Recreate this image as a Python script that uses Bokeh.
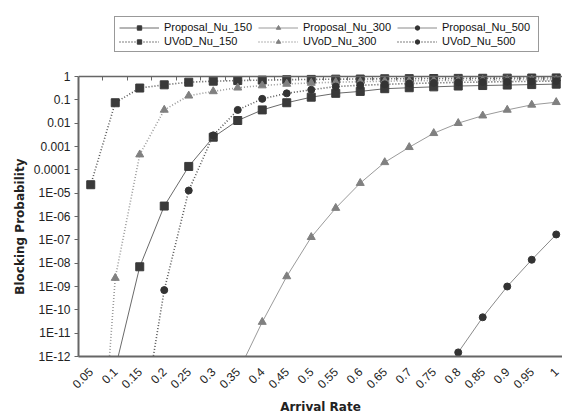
import math
from bokeh.plotting import figure
from bokeh.models import (Legend, LegendItem, FixedTicker, CustomJSTickFormatter,
                          LinearAxis, Range1d, Title)
from bokeh.embed import file_html
from bokeh.resources import INLINE

nan = float("nan")

arrival_rate = [0.05, 0.1, 0.15, 0.2, 0.25, 0.3, 0.35, 0.4, 0.45, 0.5,
                0.55, 0.6, 0.65, 0.7, 0.75, 0.8, 0.85, 0.9, 0.95, 1.0]

proposal_nu_150 = [nan, 3e-13, 7e-9, 2.8e-6, 1.4e-4, 2.5e-3, 0.013, 0.037, 0.075, 0.13,
                   0.19, 0.23, 0.30, 0.33, 0.36, 0.39, 0.41, 0.43, 0.45, 0.47]
proposal_nu_300 = [nan, nan, nan, nan, nan, nan, 2e-13, 3e-11, 2.7e-9, 1.3e-7,
                   2.3e-6, 2.7e-5, 2.1e-4, 9.3e-4, 3.7e-3, 0.01, 0.021, 0.037, 0.061, 0.079]
proposal_nu_500 = [nan, nan, nan, nan, nan, nan, nan, nan, nan, nan,
                   nan, nan, nan, nan, 5e-14, 1.5e-12, 4.8e-11, 1e-9, 1.4e-8, 1.7e-7]
uvod_nu_150 = [2.3e-5, 0.075, 0.32, 0.44, 0.57, 0.63, 0.67, 0.70, 0.73, 0.75,
               0.77, 0.78, 0.80, 0.81, 0.82, 0.83, 0.84, 0.85, 0.86, 0.87]
uvod_nu_300 = [1e-23, 2.3e-9, 4.5e-4, 0.037, 0.15, 0.23, 0.33, 0.41, 0.48, 0.53,
               0.57, 0.60, 0.63, 0.65, 0.67, 0.69, 0.70, 0.72, 0.73, 0.74]
uvod_nu_500 = [nan, nan, 3e-16, 7e-10, 1.3e-5, 3e-3, 0.037, 0.11, 0.19, 0.27,
               0.37, 0.42, 0.46, 0.50, 0.53, 0.56, 0.58, 0.60, 0.62, 0.64]

y_ticks = [1e-12, 1e-11, 1e-10, 1e-9, 1e-8, 1e-7, 1e-6, 1e-5, 1e-4, 1e-3, 1e-2, 1e-1, 1]
x_between_ticks = [0.075 + 0.05 * i for i in range(19)]

FONT = "Liberation Sans"
BOLD_FONT = "DejaVu Sans"

# frame from y=10 to y=356; value 1 sits 66px below the frame top,
# 1E-12 at the frame bottom (280px for 12 decades)
TOP_BORDER = 10
BOTTOM_BORDER = 64
HEIGHT = 420
Y1_PX = 66
frame_h = HEIGHT - TOP_BORDER - BOTTOM_BORDER
y_top = 10 ** (12 * Y1_PX / (frame_h - Y1_PX))

p = figure(width=562, height=HEIGHT, y_axis_type="log",
           x_range=Range1d(0.025, 1.0128), y_range=Range1d(1e-12, y_top),
           output_backend="svg", toolbar_location=None,
           min_border_left=78, min_border_right=0,
           min_border_top=TOP_BORDER, min_border_bottom=BOTTOM_BORDER)
p.grid.visible = False
p.outline_line_color = None
p.background_fill_color = "white"

# x axis
xa = p.xaxis[0]
xa.ticker = FixedTicker(ticks=arrival_rate)
xa.formatter = CustomJSTickFormatter(code="return parseFloat(tick.toFixed(2)).toString();")
xa.major_label_orientation = math.pi / 4
xa.major_tick_in = 0
xa.major_tick_out = 0
xa.minor_tick_in = 0
xa.minor_tick_out = 0
xa.axis_line_color = "#666666"
xa.axis_line_width = 2
xa.major_label_text_font = FONT
xa.major_label_text_font_size = "12px"
xa.major_label_text_color = "#222222"
xa.major_label_standoff = 13
xa.axis_label = "Arrival Rate"
xa.axis_label_text_font = BOLD_FONT
xa.axis_label_text_font_style = "bold"
xa.axis_label_text_font_size = "12px"
xa.axis_label_text_color = "#222222"
xa.axis_label_standoff = 5

# y axis (line stops at 1)
ya = p.yaxis[0]
ya.ticker = FixedTicker(ticks=y_ticks)
ya.bounds = (1e-12, 1)
ya.formatter = CustomJSTickFormatter(code="""
const e = Math.round(Math.log10(tick));
if (e >= -4) { return e == 0 ? "1" : Math.pow(10, e).toFixed(-e); }
const n = -e;
return "1E-" + (n < 10 ? "0" + n : "" + n);
""")
ya.major_tick_in = 0
ya.major_tick_out = 4
ya.minor_tick_in = 0
ya.minor_tick_out = 0
ya.axis_line_color = "#666666"
ya.axis_line_width = 2
ya.major_tick_line_color = "#666666"
ya.major_label_text_font = FONT
ya.major_label_text_font_size = "12px"
ya.major_label_text_color = "#222222"
ya.major_label_standoff = 4

ytitle = Title(text="Blocking Probability", align="right", offset=148,
               text_font=BOLD_FONT, text_font_style="bold", text_font_size="12px",
               text_color="#222222", standoff=8)
p.add_layout(ytitle, "left")

# top border line with inward ticks, drawn at y = 1
top_axis = LinearAxis(ticker=FixedTicker(ticks=x_between_ticks),
                      formatter=CustomJSTickFormatter(code="return '';"),
                      fixed_location=1)
top_axis.major_label_standoff = 0
top_axis.major_label_text_font_size = "1px"
top_axis.major_tick_in = 4
top_axis.major_tick_out = 0
top_axis.minor_tick_in = 0
top_axis.minor_tick_out = 0
top_axis.axis_line_color = "#666666"
top_axis.axis_line_width = 1.5
top_axis.major_tick_line_color = "#666666"
p.add_layout(top_axis, "above")

series = [
    ("Proposal_Nu_150", proposal_nu_150, "solid", "#6a6a6a", "square", "#3a3a3a", 8),
    ("Proposal_Nu_300", proposal_nu_300, "solid", "#9a9a9a", "triangle", "#808080", 8),
    ("Proposal_Nu_500", proposal_nu_500, "solid", "#8a8a8a", "circle", "#333333", 7),
    ("UVoD_Nu_150", uvod_nu_150, "1 2", "#555555", "square", "#3a3a3a", 8),
    ("UVoD_Nu_300", uvod_nu_300, "1 2", "#9a9a9a", "triangle", "#808080", 8),
    ("UVoD_Nu_500", uvod_nu_500, "1 2", "#555555", "circle", "#333333", 7),
]

items = []
for name, vals, dash, lcol, marker, mcol, size in series:
    lw = 1 if dash == "solid" else 1.6
    r_line = p.line(arrival_rate, vals, line_color=lcol, line_width=lw, line_dash=dash)
    r_mark = p.scatter(arrival_rate, vals, marker=marker, size=size,
                       fill_color=mcol, line_color=mcol)
    items.append(LegendItem(label=name, renderers=[r_line, r_mark]))

legend = Legend(items=items, ncols=3, orientation="horizontal",
                location=(36, 304), label_text_font=FONT, label_text_font_size="11px",
                label_text_color="#111111", glyph_width=40, glyph_height=11,
                label_standoff=5, spacing=2, padding=4, margin=0, label_width=92,
                border_line_color="#333333", border_line_width=1.5,
                label_height=12)
p.add_layout(legend, "center")

open("out.html", "w").write(file_html(p, INLINE))
